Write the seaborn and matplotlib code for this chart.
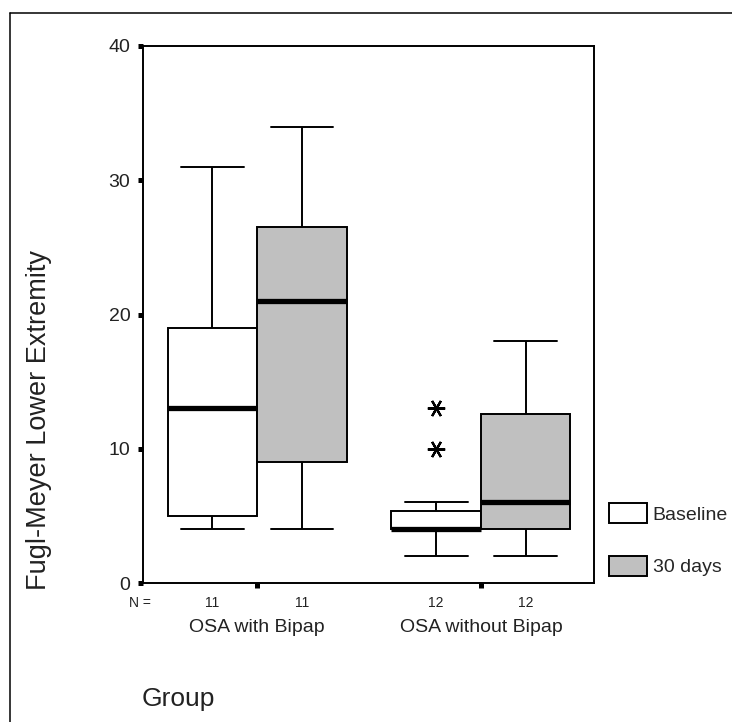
import matplotlib
matplotlib.use("Agg")
import matplotlib.pyplot as plt
from matplotlib.lines import Line2D
import numpy as np
import pandas as pd
import seaborn as sns

# ---- data (whisker ends, quartiles, medians, outliers) ----
groups = ["OSA with Bipap", "OSA without Bipap"]
times = ["Baseline", "30 days"]
bipap_baseline = [4, 4, 5, 5, 8, 13, 15, 18, 20, 25, 31]
bipap_30days = [4, 7, 9, 9, 15, 21, 23, 26, 27, 30, 34]
nobipap_baseline = [2, 3, 4, 4, 4, 4, 4, 5, 5.2, 6, 10, 13]
nobipap_30days = [2, 3, 4, 4, 5, 6, 6, 9, 12, 14.4, 16, 18]
n_counts = [11, 11, 12, 12]
y_ticks = [0, 10, 20, 30, 40]
box_colors = {"Baseline": "white", "30 days": "#c0c0c0"}

rows = []
for g, t, vals in [(groups[0], times[0], bipap_baseline),
                   (groups[0], times[1], bipap_30days),
                   (groups[1], times[0], nobipap_baseline),
                   (groups[1], times[1], nobipap_30days)]:
    for v in vals:
        rows.append({"group": g, "time": t, "value": v})
df = pd.DataFrame(rows)

sns.set_style("white")
plt.rcParams["font.family"] = ["Liberation Sans", "DejaVu Sans"]

W, H = 732, 722
fig = plt.figure(figsize=(W / 100, H / 100), dpi=100)
ax = fig.add_axes([143 / W, 1 - 583 / H, (594 - 143) / W, (583 - 46) / H])

sns.boxplot(data=df, x="group", y="value", hue="time", order=groups,
            hue_order=times, palette=box_colors, saturation=1, width=0.8,
            gap=0, linecolor="black", linewidth=1.4, fliersize=12.5,
            medianprops=dict(linewidth=3.8, color="black"),
            flierprops=dict(marker=(6, 2, 90), markersize=12.5,
                            markeredgewidth=1.6, markeredgecolor="black",
                            markerfacecolor="black"),
            capwidths=0.28, ax=ax)

ax.set_ylim(0, 40)
ax.set_xlim(-0.51, 1.505)
ax.set_yticks(y_ticks)
ax.set_xticks([0, 1])
ax.set_xticklabels(["", ""])
ax.set_xlabel("")
ax.set_ylabel("")
for s in ax.spines.values():
    s.set_visible(True)
    s.set_color("black")
    s.set_linewidth(1.4)
ax.tick_params(axis="both", direction="out", length=3.6, width=3.6,
               color="black", left=True, bottom=True)
ax.tick_params(axis="y", labelsize=14, pad=5.5, labelcolor="#222222")

# N row and group labels
xt = ax.get_xaxis_transform()
positions = [-0.2, 0.2, 0.8, 1.2]
for p, n in zip(positions, n_counts):
    ax.text(p, (583 - 607) / 537, str(n), transform=xt, ha="center",
            va="baseline", fontsize=10, color="#222222")
fig.text(140 / W, 1 - 607 / H, "N =", ha="center", va="baseline",
         fontsize=10, color="#222222")
for i, g in enumerate(groups):
    ax.text(i, (583 - 632) / 537, g, transform=xt, ha="center",
            va="baseline", fontsize=14, color="#222222")

fig.text(39 / W, 1 - 420 / H, "Fugl-Meyer Lower Extremity", rotation=90,
         ha="center", va="center", fontsize=19.5, color="#222222")
fig.text(142 / W, 1 - 706 / H, "Group", ha="left", va="baseline",
         fontsize=19, color="#222222")

sns.move_legend(ax, loc="upper left",
                bbox_to_anchor=(609 / W, 1 - 503 / H),
                bbox_transform=fig.transFigure, title=None, frameon=False,
                fontsize=14, handlelength=1.95, handleheight=1.23,
                labelspacing=1.65, handletextpad=0.3, borderpad=0,
                borderaxespad=0)

# outer frame
fig.add_artist(Line2D([10 / W, 10 / W], [0, 1 - 13 / H],
                      transform=fig.transFigure, color="black", lw=1.1))
fig.add_artist(Line2D([10 / W, 1], [1 - 13 / H, 1 - 13 / H],
                      transform=fig.transFigure, color="black", lw=1.1))

fig.savefig("out.png", dpi=100)
